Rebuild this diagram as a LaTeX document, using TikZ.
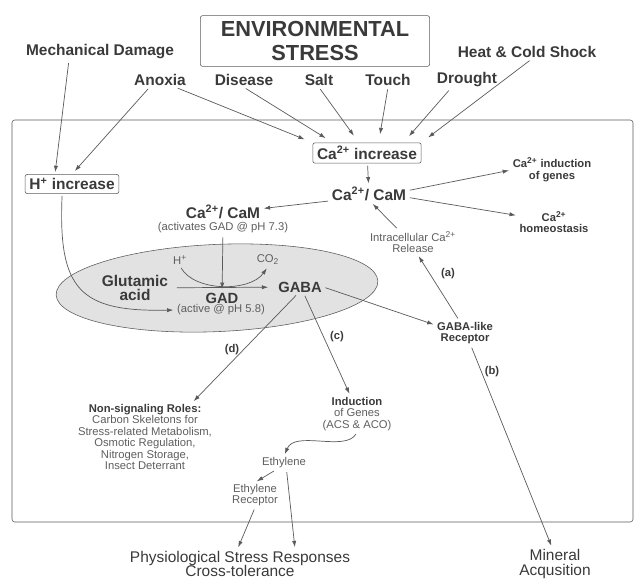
\documentclass[tikz,border=0pt]{standalone}
\usepackage{fontspec}
\setmainfont{Liberation Sans}
\usepackage{tikz}
\usetikzlibrary{shapes.geometric, arrows.meta, calc}
\definecolor{stress-ink}{HTML}{3A3A3A}
\definecolor{stress-soft}{HTML}{5E5E5E}
\definecolor{stress-line}{HTML}{5A5A5A}
\definecolor{stress-cell}{HTML}{E2E2E2}

\begin{document}
\begin{tikzpicture}[x=0.025cm, y=-0.025cm,
    bodytext/.style={inner sep=1pt, align=center, text=stress-ink},
    bigtext/.style={bodytext, font=\fontsize{11}{10.5}\selectfont\bfseries},
    plaintext/.style={bodytext, font=\fontsize{11}{10.5}\selectfont},
    notetext/.style={bodytext, font=\fontsize{8}{8.1}\selectfont, text=stress-soft},
    notebold/.style={bodytext, font=\fontsize{8}{8.3}\selectfont\bfseries},
    stressbox/.style={bigtext, draw=stress-line, rounded corners=1.5pt, inner xsep=3pt, inner ysep=2.5pt},
    link/.style={draw=stress-line, line width=0.5pt, -{Latex[length=4.5pt,width=3pt]}, shorten >=1.5pt, shorten <=1.5pt},
    into/.style={link, shorten >=6pt}]
    \useasboundingbox (0,0) rectangle (635,579);
    \draw[stress-line, rounded corners=2pt] (12,120) rectangle (633,522);
    \node[ellipse, draw=stress-line, fill=stress-cell, minimum width=229pt, minimum height=62pt, rotate=2.5] (cell) at (217,288) {};

    \node[stressbox, font=\fontsize{15.5}{17}\selectfont\bfseries, minimum width=163pt, minimum height=36pt] (env) at (315,41) {ENVIRONMENTAL\\STRESS};
    \node[bigtext] (mech) at (100,52) {Mechanical Damage};
    \node[bigtext] (heat) at (527,52) {Heat \& Cold Shock};
    \node[bigtext] (anoxia) at (160,80) {Anoxia};
    \node[bigtext] (disease) at (244,80) {Disease};
    \node[bigtext] (salt) at (319,80) {Salt};
    \node[bigtext] (touch) at (388,80) {Touch};
    \node[bigtext] (drought) at (467,80) {Drought};

    \node[stressbox] (hinc) at (72,184) {H\textsuperscript{+} increase};
    \node[stressbox] (cainc) at (367,153) {Ca\textsuperscript{2+} increase};
    \node[bigtext] (cam) at (369,194) {Ca\textsuperscript{2+}/ CaM};
    \node[notebold] (indgenes) at (552,170) {Ca\textsuperscript{2+} induction\\of genes};
    \node[notebold] (homeo) at (554,222) {Ca\textsuperscript{2+}\\homeostasis};
    \node[notetext] (release) at (413,242) {Intracellular Ca\textsuperscript{2+}\\Release};
    \node[notebold] (receptor) at (465,333) {GABA-like\\Receptor};

    \node[bigtext] (camleft) at (223,212) {Ca\textsuperscript{2+}/ CaM};
    \node[notetext] (act) at (223,228) {(activates GAD @ pH 7.3)};
    \node[bigtext] (glut) at (135,288) {Glutamic\\acid};
    \node[bigtext, font=\fontsize{10.5}{10}\selectfont\bfseries] (gad) at (222,298) {GAD};
    \node[notetext] (active) at (221,310) {(active @ pH 5.8)};
    \node[bigtext, font=\fontsize{10.5}{10}\selectfont\bfseries] (gaba) at (300,287) {GABA};
    \node[notetext] (hplus) at (180,260) {H\textsuperscript{+}};
    \node[notetext] (co2) at (268,260) {CO\textsubscript{2}};

    \node[notetext] (nonsig) at (145,437) {{\color{stress-ink}\bfseries Non-signaling Roles:}\\Carbon Skeletons for\\Stress-related Metabolism,\\Osmotic Regulation,\\Nitrogen Storage,\\Insect Deterrant};
    \node[notetext] (induction) at (357,414) {{\color{stress-ink}\bfseries Induction}\\of Genes\\(ACS \& ACO)};
    \node[notetext] (ethylene) at (284,463) {Ethylene};
    \node[notetext] (ethrec) at (255,495) {Ethylene\\Receptor};
    \node[plaintext] (phys) at (240,564) {Physiological Stress Responses\\Cross-tolerance};
    \node[plaintext] (mineral) at (555,564) {Mineral\\Acqusition};

    \node[notebold] (la) at (448,274) {(a)};
    \node[notebold] (lb) at (492,372) {(b)};
    \node[notebold] (lc) at (337,337) {(c)};
    \node[notebold] (ld) at (232,350) {(d)};

    \draw[link] (mech.196) -- (hinc.150);
    \draw[link, shorten >=3pt] (anoxia.215) -- (hinc.north);
    \draw[into] (anoxia.335) -- (cainc.north west);
    \draw[into] (disease.south) -- (cainc.163);
    \draw[into] (salt.south) -- (cainc.128);
    \draw[into] (touch.south) -- (cainc.42);
    \draw[into] (drought.208) -- (cainc.16);
    \draw[into] (heat.300) -- (cainc.north east);

    \draw[link] (cainc) -- (cam);
    \draw[link] (cam.5) -- (indgenes.west);
    \draw[link] (cam.-5) -- (homeo.170);
    \draw[link] (cam.190) -- (camleft.5);
    \draw[link] (release.140) -- (cam.-75);
    \draw[link] (receptor.115) -- (release.-70);
    \draw[link] (receptor.-65) -- (mineral.100);

    \draw[link] (hinc.225) .. controls (58,290) and (80,312) .. (active.west);
    \draw[link] (act) -- (gad);
    \draw[link, shorten <=5pt, shorten >=6pt] (glut) -- (gaba);
    \draw[link] (hplus.south) .. controls (195,292) and (250,292) .. (co2.south);

    \draw[link] (gaba.east) -- (receptor.165);
    \draw[link] (gaba.-60) -- (induction.110);
    \draw[link] (gaba.250) -- (nonsig.36);
    \draw[link] (induction.south) .. controls (345,452) and (295,430) .. (ethylene.north);
    \draw[link] (ethylene.220) -- (ethrec.north);
    \draw[link] (ethylene.-70) -- (phys.15);
    \draw[link] (ethrec.south) -- (phys.100);
\end{tikzpicture}
\end{document}
